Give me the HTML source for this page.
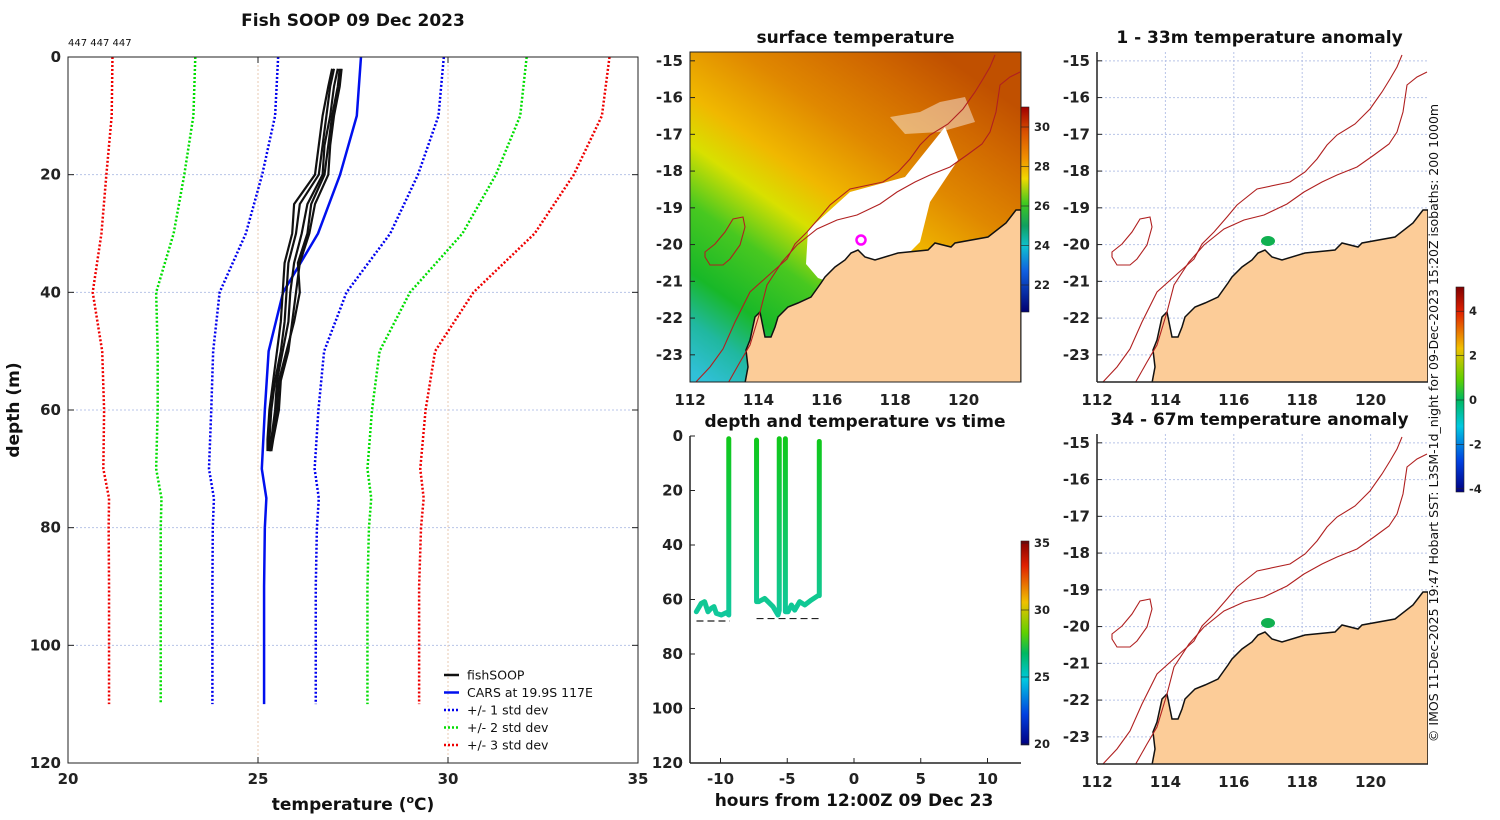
<!DOCTYPE html>
<html><head><meta charset="utf-8"><style>
body{margin:0;background:#fff;}
svg{display:block;font-family:"DejaVu Sans","Liberation Sans",sans-serif;}
.tk{font-size:15px;font-weight:bold;fill:#222;}
.ttl{font-size:17px;font-weight:bold;fill:#111;}
</style></head><body>
<svg id="fig" width="1500" height="820" viewBox="0 0 1500 820" xmlns="http://www.w3.org/2000/svg">
<defs>
<linearGradient id="sstbg" x1="0.05" y1="1" x2="0.75" y2="0">
<stop offset="0" stop-color="#30c0d8"/><stop offset="0.1" stop-color="#20b8a0"/><stop offset="0.2" stop-color="#18b828"/><stop offset="0.34" stop-color="#48c820"/><stop offset="0.46" stop-color="#d8e000"/><stop offset="0.56" stop-color="#f0b800"/><stop offset="0.72" stop-color="#e08800"/><stop offset="0.88" stop-color="#d06800"/><stop offset="1" stop-color="#c05000"/>
</linearGradient>
<linearGradient id="sstcb" x1="0" y1="0" x2="0" y2="1">
<stop offset="0" stop-color="#a00000"/><stop offset="0.12" stop-color="#d85000"/><stop offset="0.25" stop-color="#f09000"/><stop offset="0.35" stop-color="#f0d800"/><stop offset="0.47" stop-color="#40c820"/><stop offset="0.58" stop-color="#10a060"/><stop offset="0.68" stop-color="#10c0d0"/><stop offset="0.8" stop-color="#1060e0"/><stop offset="1" stop-color="#000070"/>
</linearGradient>
<linearGradient id="jet" x1="0" y1="0" x2="0" y2="1">
<stop offset="0" stop-color="#800000"/><stop offset="0.12" stop-color="#e02000"/><stop offset="0.3" stop-color="#f0c000"/><stop offset="0.45" stop-color="#60d000"/><stop offset="0.55" stop-color="#00b860"/><stop offset="0.68" stop-color="#00c8e0"/><stop offset="0.85" stop-color="#0040e0"/><stop offset="1" stop-color="#000080"/>
</linearGradient>
<linearGradient id="trackgrad" gradientUnits="userSpaceOnUse" x1="0" y1="436" x2="0" y2="620">
<stop offset="0" stop-color="#10c818"/><stop offset="1" stop-color="#10c8a0"/>
</linearGradient>
</defs>
<g id="root"></g>
</svg>
<script>
// ---------- Left profile chart data ----------
const carsDepth = [0,10,20,30,40,50,60,70,75,80,90,100,110];
const carsMean  = [27.71,27.6,27.16,26.58,25.66,25.28,25.18,25.1,25.22,25.18,25.16,25.16,25.16];
const carsStd   = [2.18,2.15,2.05,1.9,1.67,1.46,1.41,1.39,1.38,1.37,1.36,1.36,1.36];
const soopDepth = [2,5,10,15,20,25,30,35,40,45,50,55,60,65,67];
const soop1 = [27.2,27.15,27.0,26.9,26.85,26.5,26.35,26.1,26.0,25.9,25.8,25.6,25.55,25.4,25.35];
const soop2 = [27.0,26.9,26.8,26.7,26.6,26.1,26.0,25.8,25.75,25.7,25.6,25.45,25.35,25.3,25.3];
const soop3 = [27.1,27.0,26.9,26.75,26.7,26.3,26.15,25.95,25.85,25.8,25.65,25.5,25.45,25.35,25.3];
const soop4 = [26.95,26.85,26.7,26.6,26.5,25.95,25.9,25.7,25.65,25.6,25.5,25.4,25.3,25.25,25.25];
const soop5 = [27.15,27.1,26.95,26.85,26.75,26.4,26.3,26.05,26.1,25.95,25.75,25.55,25.5,25.38,25.32];
const tempTicks = [20,25,30,35];
const depthTicks = [0,20,40,60,80,100,120];
// ---------- Time chart data ----------
const trackHours = [-11.81,-11.44,-11.19,-10.94,-10.69,-10.49,-10.31,-9.94,-9.56,-9.38,-9.38,null,-7.3,-7.3,-7.14,-6.69,-6.44,-6.07,-5.69,-5.6,-5.6,null,-5.14,-5.14,-4.94,-4.69,-4.44,-4.07,-3.69,-3.2,-2.7,-2.6,-2.6];
const trackDepth = [64.5,61.4,60.8,64.5,63.2,62.6,65.1,65.7,64.8,65.7,1,null,1.5,60.8,60.8,59.6,60.8,62.6,65.7,64,1,null,1,64.5,64.5,62,63.9,60.8,62,60.2,58.6,58.6,2];
const bottomHours = [[-11.8,-9.3],[-7.3,-2.6]];
const bottomDepth = [67.9,67.0];
const hourTicks = [-10,-5,0,5,10];
const tdTicks = [0,20,40,60,80,100,120];
const sstTicks = [30,28,26,24,22];
const anomTicks = [4,2,0,-2,-4];
const tcbTicks = [35,30,25,20];
const lonTicks = [112,114,116,118,120];
const latTicks = [-15,-16,-17,-18,-19,-20,-21,-22,-23];

const NS="http://www.w3.org/2000/svg";
const root=document.getElementById('root');
function mk(tag,attrs,parent){const e=document.createElementNS(NS,tag);for(const k in attrs)e.setAttribute(k,attrs[k]);(parent||root).appendChild(e);return e;}
function txt(s,x,y,cls,anchor,parent){const e=mk('text',{x:x,y:y,class:cls||'tk','text-anchor':anchor||'middle'},parent);e.textContent=s;return e;}

// ===== Left chart =====
const xT=t=>68+(t-20)*38, yD=d=>57+d*706/120;
let g=mk('g',{});


for(const d of depthTicks.slice(1,-1)){const l=mk('line',{x1:68,x2:638,y1:yD(d),y2:yD(d),stroke:'#b8c4e8','stroke-width':1,'stroke-dasharray':'2,2'},g);

}
for(const t of tempTicks.slice(1,-1)){const l=mk('line',{x1:xT(t),x2:xT(t),y1:57,y2:763,stroke:'#e8c8b0','stroke-width':1,'stroke-dasharray':'2,2'},g);

}
const stdCols=['#0000ee','#00dd00','#ee0000'];
[1,2,3].forEach((k,i)=>{[-1,1].forEach(s=>{const pts=carsDepth.map((d,j)=>xT(carsMean[j]+s*k*carsStd[j])+','+yD(d)).join(' ');
const p=mk('polyline',{points:pts,fill:'none',stroke:stdCols[i],'stroke-width':2.5,'stroke-dasharray':'2,2'},g);

});});
const cp=mk('polyline',{points:carsDepth.map((d,j)=>xT(carsMean[j])+','+yD(d)).join(' '),fill:'none',stroke:'#0010ee','stroke-width':2.5},g);


[soop1,soop2,soop3,soop4,soop5].forEach((arr,i)=>{const p=mk('polyline',{points:soopDepth.map((d,j)=>xT(arr[j])+','+yD(d)).join(' '),fill:'none',stroke:'#111','stroke-width':2.2},g);

});
const fr=mk('rect',{x:68,y:57,width:570,height:706,fill:'none',stroke:'#222','stroke-width':1},g);


for(const t of tempTicks){mk('line',{x1:xT(t),x2:xT(t),y1:763,y2:757,stroke:'#222'},g);mk('line',{x1:xT(t),x2:xT(t),y1:57,y2:63,stroke:'#222'},g);
const e=txt(String(t),xT(t),784,'tk','middle',g);

}
for(const d of depthTicks){mk('line',{x1:68,x2:74,y1:yD(d),y2:yD(d),stroke:'#222'},g);mk('line',{x1:632,x2:638,y1:yD(d),y2:yD(d),stroke:'#222'},g);
const e=txt(String(d),61,yD(d)+5,'tk','end',g);

}
let e=txt('Fish SOOP 09 Dec 2023',353,26,'ttl','middle',g);


e=mk('text',{x:68,y:46,'font-size':'10px',fill:'#111'},g);e.textContent='447 447 447';


e=mk('text',{x:353,y:810,'text-anchor':'middle',class:'ttl','font-size':'16px'},g);
e.innerHTML='temperature (<tspan font-size="11" dy="-7">o</tspan><tspan dy="7">C)</tspan>';


e=mk('text',{x:0,y:0,'text-anchor':'middle',class:'ttl','font-size':'16px',transform:'translate(19,410) rotate(-90)'},g);e.textContent='depth (m)';


// legend
const leg=[['fishSOOP','#111',''],['CARS at 19.9S 117E','#0010ee',''],['+/- 1 std dev','#0000ee','2,2'],['+/- 2 std dev','#00dd00','2,2'],['+/- 3 std dev','#ee0000','2,2']];
leg.forEach((L,i)=>{const gy=675+i*17.5;const lg=mk('g',{},g);


mk('line',{x1:444,x2:459,y1:gy,y2:gy,stroke:L[1],'stroke-width':2.5,'stroke-dasharray':L[2]||'none'},lg);
const t=mk('text',{x:467,y:gy+4.5,'font-size':'12.5px',fill:'#111'},lg);t.textContent=L[0];});

// ===== Maps =====
const coast=[[326,158],[316,171],[298,185],[265,191],[261,195],[245,191],[238,198],[208,201],[185,208],[175,205],[168,198],[161,201],[155,208],[145,215],[135,225],[131,231],[121,245],[108,251],[98,255],[88,265],[85,275],[81,285],[75,285],[71,265],[70,260],[65,265],[60,288],[56,298],[58,315],[55,331]];
const iso200=[[5,331],[20,315],[33,297],[45,270],[60,240],[80,222],[97,207],[105,192],[117,180],[130,165],[140,153],[160,137],[193,130],[208,120],[220,107],[230,93],[240,83],[258,72],[273,57],[285,40],[293,27],[300,15],[305,3]];
const iso1000=[[37,333],[50,310],[60,293],[70,260],[77,233],[92,210],[107,193],[127,177],[147,168],[167,163],[190,152],[207,140],[225,130],[240,123],[260,115],[277,103],[292,92],[300,80],[306,60],[310,33],[320,25],[330,20]];
const island=[[15,200],[25,192],[35,180],[43,167],[53,165],[55,175],[50,193],[40,207],[33,213],[20,213],[15,205]];
const lonX=(x0,lon)=>x0+(lon-112)*34.2, latY=(y0,lat)=>y0+(-14.76-lat)*36.75;
function pstr(a,x0,y0){return a.map(p=>(x0+p[0])+','+(y0+p[1])).join(' ');}
function mapPanel(name,x0,y0,sst,title,axisBox){
 const W=331,H=330;const mg=mk('g',{});
 
 
 const cid='clip'+name;const cp=mk('clipPath',{id:cid},mg);mk('rect',{x:x0,y:y0,width:W,height:H},cp);
 const inner=mk('g',{'clip-path':'url(#'+cid+')'},mg);
 if(sst){mk('rect',{x:x0,y:y0,width:W,height:H,fill:'url(#sstbg)'},inner);
  const wp=mk('polygon',{points:pstr([[160,140],[215,125],[235,100],[255,75],[268,108],[240,150],[230,190],[215,205],[180,220],[145,232],[128,226],[116,212],[118,178]],x0,y0),fill:'#fff'},inner);
  
  
  mk('polygon',{points:pstr([[200,65],[230,60],[250,50],[275,45],[285,70],[250,80],[215,82]],x0,y0),fill:'#fff',opacity:0.45},inner);
 } else {
  for(const lo of lonTicks.slice(1)){mk('line',{x1:lonX(x0,lo),x2:lonX(x0,lo),y1:y0,y2:y0+H,stroke:'#b8c4e8','stroke-dasharray':'2,2'},inner);}
  for(const la of latTicks){mk('line',{x1:x0,x2:x0+W,y1:latY(y0,la),y2:latY(y0,la),stroke:'#b8c4e8','stroke-dasharray':'2,2'},inner);}
 }
 const land=mk('polygon',{points:pstr(coast.concat([[331,331],[331,158]]),x0,y0),fill:'#fccc98',stroke:'#111','stroke-width':1.5},inner);
 
 
 [iso200,iso1000].forEach((a,i)=>{const p=mk('polyline',{points:pstr(a,x0,y0),fill:'none',stroke:'#b02020','stroke-width':1.1},inner);
 
 });
 mk('polygon',{points:pstr(island,x0,y0),fill:'none',stroke:'#b02020','stroke-width':1.1},inner);
 if(sst){const c=mk('circle',{cx:x0+171,cy:y0+188,r:4.5,fill:'none',stroke:'#ff00ff','stroke-width':2.5},inner);
  
  }
 else{const c=mk('ellipse',{cx:x0+171,cy:y0+189,rx:7,ry:5,fill:'#10b050'},inner);
  
  }
 if(axisBox)mk('rect',{x:x0,y:y0,width:W,height:H,fill:'none',stroke:'#222'},mg);
 else{mk('line',{x1:x0,x2:x0,y1:y0,y2:y0+H,stroke:'#222','stroke-width':1.5},mg);mk('line',{x1:x0,x2:x0+W,y1:y0+H,y2:y0+H,stroke:'#222','stroke-width':1.5},mg);}
 for(const lo of lonTicks){const t=txt(String(lo),lonX(x0,lo),y0+H+23,'tk','middle',mg);
  
  }
 for(const la of latTicks){mk('line',{x1:x0,x2:x0+5,y1:latY(y0,la),y2:latY(y0,la),stroke:'#222'},mg);
  const t=txt(String(la),x0-7,latY(y0,la)+5,'tk','end',mg);
  
  }
 const tt=txt(title,x0+W/2+(sst?0:-3),y0-9,'ttl','middle',mg);tt.setAttribute('font-size','16px');
 
 
}
mapPanel('sst-map',690,52,true,'surface temperature',true);
mapPanel('anomaly-map-shallow',1097,52,false,'1 - 33m temperature anomaly',false);
mapPanel('anomaly-map-deep',1097,434,false,'34 - 67m temperature anomaly',false);

function colorbar(name,x,y1,y2,fill,ticks,v2y){const cg=mk('g',{});
 
 
 mk('rect',{x:x,y:y1,width:8,height:y2-y1,fill:fill,stroke:'#222','stroke-width':0.6},cg);
 for(const v of ticks){const yy=v2y(v);mk('line',{x1:x,x2:x+8,y1:yy,y2:yy,stroke:'#222','stroke-width':0.6},cg);
  const t=mk('text',{x:x+13,y:yy+4,'font-size':'11.5px','font-weight':'bold',fill:'#222'},cg);t.textContent=String(v);}
}
colorbar('sst-colorbar',1021,107,312,'url(#sstcb)',sstTicks,v=>127+(30-v)*19.75);
colorbar('anomaly-colorbar',1456,287,492,'url(#jet)',anomTicks,v=>400-v*22.2);
colorbar('time-colorbar',1021,541,745,'url(#jet)',tcbTicks,v=>543+(35-v)*13.4);

// ===== Time chart =====
const xH=h=>854+h*13.35, yTD=d=>436+d*2.725;
const tg=mk('g',{});


bottomHours.forEach((r,i)=>{const l=mk('line',{x1:xH(r[0]),x2:xH(r[1]),y1:yTD(bottomDepth[i]),y2:yTD(bottomDepth[i]),stroke:'#222','stroke-width':1.2,'stroke-dasharray':'7,4'},tg);
 
 });
let seg=[];const segs=[];
trackHours.forEach((h,i)=>{if(h===null){segs.push(seg);seg=[];}else seg.push(xH(h)+','+yTD(trackDepth[i]));});segs.push(seg);
segs.forEach((s,i)=>{const p=mk('polyline',{points:s.join(' '),fill:'none',stroke:'url(#trackgrad)','stroke-width':5,'stroke-linejoin':'round','stroke-linecap':'round'},tg);
 
 });
mk('line',{x1:690,x2:690,y1:436,y2:763,stroke:'#222','stroke-width':1.5},tg);
mk('line',{x1:690,x2:1021,y1:763,y2:763,stroke:'#222','stroke-width':1.5},tg);
for(const h of hourTicks){mk('line',{x1:xH(h),x2:xH(h),y1:763,y2:758,stroke:'#222'},tg);
 const t=txt(String(h),xH(h),784,'tk','middle',tg);
 
 }
for(const d of tdTicks){mk('line',{x1:690,x2:695,y1:yTD(d),y2:yTD(d),stroke:'#222'},tg);
 const t=txt(String(d),683,yTD(d)+5,'tk','end',tg);
 
 }
e=txt('depth and temperature vs time',855,427,'ttl','middle',tg);e.setAttribute('font-size','16px');


e=txt('hours from 12:00Z 09 Dec 23',854,806,'ttl','middle',tg);e.setAttribute('font-size','16px');



e=mk('text',{x:0,y:0,'font-size':'12.5px',fill:'#111','text-anchor':'middle',transform:'translate(1438,423) rotate(-90)'});
e.textContent='© IMOS 11-Dec-2025 19:47 Hobart SST: L3SM-1d_night for 09-Dec-2023 15:20Z isobaths: 200  1000m';


</script>
</body></html>
